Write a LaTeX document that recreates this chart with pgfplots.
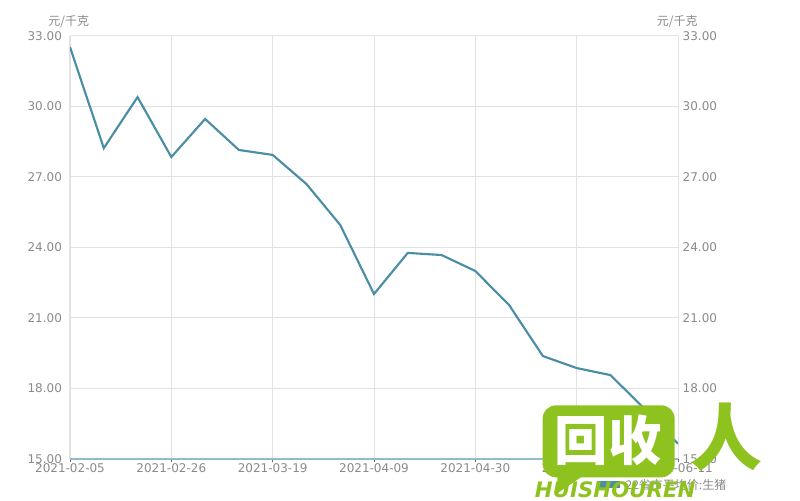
\documentclass[border=0pt]{standalone}
\usepackage{pgfplots}
\pgfplotsset{compat=1.18}
\usepackage{fontspec}
\setmainfont{DejaVu Sans}
\newfontfamily\cjk{Noto Sans CJK SC}
\newfontfamily\cjkb{Noto Sans CJK SC Black}
\definecolor{linec}{HTML}{4A8EA6}
\definecolor{lblc}{HTML}{8A8A8A}
\definecolor{gridc}{HTML}{E2E2E2}
\definecolor{wmgreen}{HTML}{8DC21F}
\begin{document}
\begin{tikzpicture}
\path[use as bounding box] (0,0) rectangle (600pt,375pt);
\pgfplotsset{
  common/.style={
    at={(52.5pt,30.75pt)}, anchor=south west,
    scale only axis, width=456pt, height=317.25pt,
    xmin=0, xmax=18, ymin=15, ymax=33,
    ytick={15,18,21,24,27,30,33},
    yticklabel style={font=\fontsize{9}{10}\selectfont, text=lblc,
      /pgf/number format/.cd, fixed, fixed zerofill, precision=2, assume math mode=true},
    ytick style={draw=none},
  }
}
\begin{axis}[common,
  axis x line*=bottom, axis y line*=left,
  x axis line style={draw=linec!60, line width=1pt, -},
  y axis line style={draw=none},
  xtick={0,3,6,9,12,15,18},
  xticklabels={2021-02-05,2021-02-26,2021-03-19,2021-04-09,2021-04-30,2021-05-21,2021-06-11},
  xticklabel style={font=\fontsize{9}{10}\selectfont, text=lblc, yshift=2.5pt},
  xtick style={draw=black!60, line width=0.6pt},
  tick align=outside, major tick length=2.5pt,
  grid=major, major grid style={draw=gridc, line width=0.75pt},
]
\addplot[color=linec, line width=1.6pt, mark=none] coordinates {
(0,32.53) (1,28.23) (2,30.40) (3,27.85) (4,29.47) (5,28.15) (6,27.94)
(7,26.70) (8,24.96) (9,22.02) (10,23.77) (11,23.68) (12,23.00)
(13,21.55) (14,19.38) (15,18.87) (16,18.57) (17,17.15) (18,15.65)
};
\end{axis}
\begin{axis}[common,
  hide x axis, axis y line*=right,
  y axis line style={draw=none},
  yticklabel pos=right,
]
\addplot[draw=none] coordinates {(0,15)};
\end{axis}
% units
\node[text=lblc, font=\cjk\fontsize{9}{10}\selectfont] at (51.5pt,359pt) {元/千克};
\node[text=lblc, font=\cjk\fontsize{9}{10}\selectfont] at (508pt,359pt) {元/千克};
% legend
\fill[linec] (448pt,9pt) rectangle (465pt,14pt);
\node[anchor=west, text=lblc, font=\cjk\fontsize{9}{10}\selectfont, inner sep=0pt] at (469pt,11.5pt) {22省市平均价:生猪};
% watermark
\fill[wmgreen, rounded corners=10pt] (407pt,17pt) rectangle (506pt,71pt);
\fill[wmgreen] (418pt,20pt) -- (418pt,5pt) -- (440pt,20pt) -- cycle;
\node[text=white, font=\cjkb\fontsize{40}{40}\selectfont, inner sep=0pt] at (456pt,45pt) {回收};
\node[text=wmgreen, font=\cjk\bfseries\fontsize{54}{54}\selectfont, inner sep=0pt] at (545pt,47pt) {人};
\node[anchor=west, text=wmgreen, font=\bfseries\itshape\fontsize{16}{16}\selectfont, inner sep=0pt] at (401pt,8pt) {HUISHOUREN};
\end{tikzpicture}
\end{document}
